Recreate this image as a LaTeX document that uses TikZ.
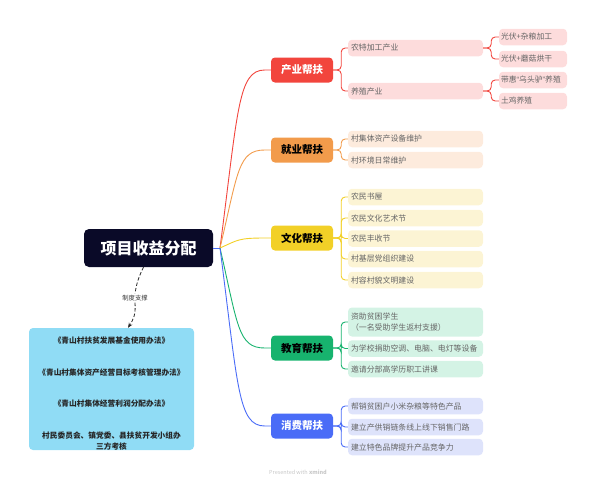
\documentclass[tikz,border=0pt]{standalone}
\usepackage{fontspec}
\setmainfont{Noto Sans CJK SC}
\newfontfamily\qfont{Liberation Sans}
\usetikzlibrary{arrows.meta,calc}
\definecolor{cRed}{HTML}{F2453D}
\definecolor{cOrg}{HTML}{F29B4B}
\definecolor{cYel}{HTML}{F2D027}
\definecolor{cGrn}{HTML}{17B36E}
\definecolor{cBlu}{HTML}{4A6CF7}
\definecolor{lRed}{HTML}{FDDCDC}
\definecolor{lOrg}{HTML}{FDEBDD}
\definecolor{lYel}{HTML}{FCF4D4}
\definecolor{lGrn}{HTML}{D4F3E5}
\definecolor{lBlu}{HTML}{DEE3FB}
\definecolor{navy}{HTML}{0A0A28}
\definecolor{sky}{HTML}{90DCF5}
\definecolor{txtg}{HTML}{666666}
\tikzset{
  lone/.style={rounded corners=4pt, minimum width=62pt, minimum height=25pt, inner sep=0pt, font=\bfseries\fontsize{10.5}{12}\selectfont},
  ltwo/.style={rounded corners=4pt, text width=129pt, inner xsep=3pt, inner ysep=2pt, minimum height=16.5pt, align=left, text=txtg, font=\fontsize{7.9}{11}\selectfont},
  lthree/.style={rounded corners=4pt, text width=64pt, inner xsep=2pt, inner ysep=2pt, minimum height=16.5pt, align=left, text=txtg, font=\fontsize{7.8}{10}\selectfont},
  br/.style={line width=0.9pt, rounded corners=4pt},
  cv/.style={line width=0.9pt},
  boxtxt/.style={font=\bfseries\fontsize{7.7}{10}\selectfont, text=black!85, align=center, inner sep=0pt}
}
\begin{document}
\begin{tikzpicture}[x=1pt,y=-1pt]
\useasboundingbox (0,0) rectangle (597,485);
% central
\node[fill=navy, rounded corners=5pt, minimum width=129pt, minimum height=38pt, text=white, font=\bfseries\fontsize{16}{18}\selectfont] (c) at (148.5,248) {项目收益分配};
\coordinate (hub) at (220,248);
\draw[cBlu, cv] (c.east) -- (hub);
% level 1
\node[lone, fill=cRed, text=white] (p1) at (302,70) {产业帮扶};
\node[lone, fill=cOrg, text=black] (p2) at (302,150) {就业帮扶};
\node[lone, fill=cYel, text=black] (p3) at (302,238) {文化帮扶};
\node[lone, fill=cGrn, text=black] (p4) at (302,348) {教育帮扶};
\node[lone, fill=cBlu, text=white] (p5) at (302,426) {消费帮扶};
% curves
\draw[cRed, cv] (hub) .. controls (238,110) and (238,70) .. ([xshift=-6pt]p1.west) -- (p1.west);
\draw[cOrg, cv] (hub) .. controls (238,172) and (238,150) .. ([xshift=-6pt]p2.west) -- (p2.west);
\draw[cYel, cv] (hub) .. controls (238,240) and (238,238) .. ([xshift=-6pt]p3.west) -- (p3.west);
\draw[cGrn, cv] (hub) .. controls (238,326) and (238,348) .. ([xshift=-6pt]p4.west) -- (p4.west);
\draw[cBlu, cv] (hub) .. controls (238,387) and (238,426) .. ([xshift=-6pt]p5.west) -- (p5.west);
% level 2 - 产业
\node[ltwo, fill=lRed] (a1) at (415.5,48) {农特加工产业};
\node[ltwo, fill=lRed] (a2) at (415.5,91) {养殖产业};
\node[lthree, fill=lRed] (a11) at (533,37) {光伏+杂粮加工};
\node[lthree, fill=lRed] (a12) at (533,59) {光伏+蘑菇烘干};
\node[lthree, fill=lRed] (a21) at (533,80) {带惠{\qfont “}乌头驴{\qfont ”}养殖};
\node[lthree, fill=lRed] (a22) at (533,101) {土鸡养殖};
\foreach \t in {a1,a2} \draw[cRed, br] (p1.east) -- ++(8,0) |- (\t.west);
\foreach \t in {a11,a12} \draw[cRed, br] (a1.east) -- ++(8,0) |- (\t.west);
\foreach \t in {a21,a22} \draw[cRed, br] (a2.east) -- ++(8,0) |- (\t.west);
% 就业
\node[ltwo, fill=lOrg] (b1) at (415.5,139) {村集体资产设备维护};
\node[ltwo, fill=lOrg] (b2) at (415.5,160) {村环境日常维护};
\foreach \t in {b1,b2} \draw[cOrg, br] (p2.east) -- ++(8,0) |- (\t.west);
% 文化
\node[ltwo, fill=lYel] (d1) at (415.5,197) {农民书屋};
\node[ltwo, fill=lYel] (d2) at (415.5,218) {农民文化艺术节};
\node[ltwo, fill=lYel] (d3) at (415.5,238.5) {农民丰收节};
\node[ltwo, fill=lYel] (d4) at (415.5,259) {村基层党组织建设};
\node[ltwo, fill=lYel] (d5) at (415.5,280) {村容村貌文明建设};
\foreach \t in {d1,d2,d3,d4,d5} \draw[cYel, br] (p3.east) -- ++(8,0) |- (\t.west);
% 教育
\node[ltwo, fill=lGrn, minimum height=29pt] (e1) at (415.5,322) {资助贫困学生\\（一名受助学生返村支援）};
\node[ltwo, fill=lGrn] (e2) at (415.5,348.5) {为学校捐助空调、电脑、电灯等设备};
\node[ltwo, fill=lGrn] (e3) at (415.5,369) {邀请分部高学历职工讲课};
\foreach \t in {e1,e2,e3} \draw[cGrn, br] (p4.east) -- ++(8,0) |- (\t.west);
% 消费
\node[ltwo, fill=lBlu] (f1) at (415.5,406) {帮销贫困户小米杂粮等特色产品};
\node[ltwo, fill=lBlu] (f2) at (415.5,427) {建立产供销链条线上线下销售门路};
\node[ltwo, fill=lBlu] (f3) at (415.5,447) {建立特色品牌提升产品竞争力};
\foreach \t in {f1,f2,f3} \draw[cBlu, br] (p5.east) -- ++(8,0) |- (\t.west);
% policy box
\node[fill=sky, rounded corners=4pt, minimum width=165pt, minimum height=122pt, inner sep=0pt] (box) at (111.5,389) {};
\node[boxtxt] (t1) at (111.5,341) {《青山村扶贫发展基金使用办法》};
\node[boxtxt] (t2) at (111.5,373) {《青山村集体资产经营目标考核管理办法》};
\node[boxtxt] (t3) at (111.5,404) {《青山村集体经营利润分配办法》};
\node[boxtxt, font=\bfseries\fontsize{7.7}{10.5}\selectfont] (t4) at (111.5,441) {村民委员会、镇党委、县扶贫开发小组办\\三方考核};
% dashed arrow
\node[font=\fontsize{6.3}{7}\selectfont, text=black!80, fill=white, inner sep=1.5pt] (lab) at (135,298) {制度支撑};
\draw[black!85, line width=0.8pt, dash pattern=on 3.5pt off 2pt] ([xshift=-5pt]c.south) .. controls (137,280) and (136,288) .. (lab.north);
\draw[black!85, line width=0.8pt, dash pattern=on 3.5pt off 2pt, -{Stealth[length=5pt,width=4pt]}] (lab.south) .. controls (136,315) and (133,320) .. ([xshift=16.5pt]box.north);
% footer
\node[text=black!22, font=\fontsize{5.5}{7}\selectfont] (foot) at (298,472) {Presented with \textbf{xmind}};
\end{tikzpicture}
\end{document}
